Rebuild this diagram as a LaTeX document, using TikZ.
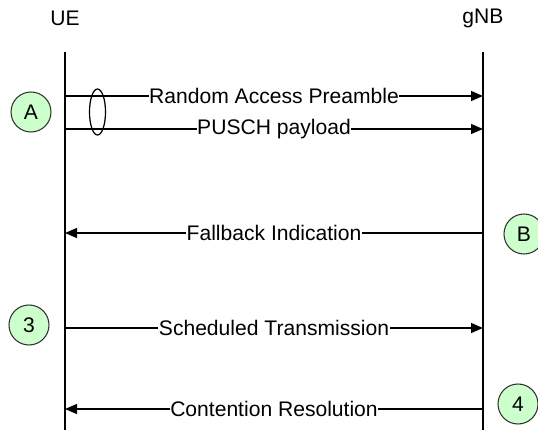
\documentclass[tikz,border=0pt]{standalone}
\usepackage{fontspec}
\setmainfont{Liberation Sans}
\usepackage{tikz}
\usetikzlibrary{positioning, shapes.geometric, arrows.meta}
\definecolor{stepgreen}{RGB}{204,255,204}

\begin{document}
\begin{tikzpicture}[
    ent/.style={font=\fontsize{12}{14}\selectfont, inner sep=0pt},
    life/.style={line width=1.1pt, color=black},
    msg/.style={-{Triangle[length=2.4mm, width=2mm]}, line width=0.7pt},
    lab/.style={font=\fontsize{12}{14}\selectfont, fill=white, inner sep=0.3pt},
    tag/.style={circle, draw=black!80, line width=0.6pt, fill=stepgreen,
                minimum size=0.8cm, inner sep=0pt, font=\fontsize{12}{14}\selectfont}
]
\useasboundingbox (0,0) rectangle (10.76,-8.6);

\node[ent] (UE) at (1.3,-0.36) {UE};
\node[ent] (gNB) at (9.66,-0.36) {gNB};
\coordinate (ueTop) at (1.3,-1.04);
\coordinate (ueBot) at (1.3,-8.6);
\coordinate (gnbTop) at (9.66,-1.04);
\coordinate (gnbBot) at (9.66,-8.6);
\draw[life] (ueTop) -- (ueBot);
\draw[life] (gnbTop) -- (gnbBot);

% message heights
\coordinate (m1) at (0,-1.92);
\coordinate (m2) at (0,-2.58);
\coordinate (m3) at (0,-4.66);
\coordinate (m4) at (0,-6.56);
\coordinate (m5) at (0,-8.18);

\draw[msg] (ueTop |- m1) -- node[lab]{Random Access Preamble} (gnbTop |- m1);
\draw[msg] (ueTop |- m2) -- node[lab]{PUSCH payload} (gnbTop |- m2);
\draw[msg] (gnbTop |- m3) -- node[lab]{Fallback Indication} (ueTop |- m3);
\draw[msg] (ueTop |- m4) -- node[lab]{Scheduled Transmission} (gnbTop |- m4);
\draw[msg] (gnbTop |- m5) -- node[lab]{Contention Resolution} (ueTop |- m5);

\node[ellipse, draw, line width=0.7pt, minimum width=0.32cm, minimum height=0.92cm,
      inner sep=0pt] (grp) at (1.95,-2.24) {};

\node[tag] (tA) at (0.62,-2.24) {A};
\node[tag] (tB) at (10.48,-4.68) {B};
\node[tag] (t3) at (0.58,-6.5) {3};
\node[tag] (t4) at (10.36,-8.08) {4};
\end{tikzpicture}
\end{document}
